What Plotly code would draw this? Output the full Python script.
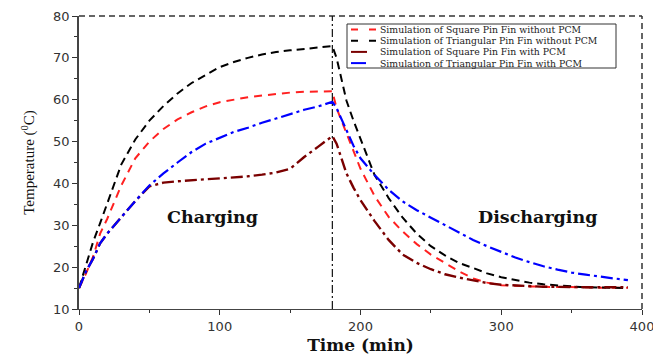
import plotly.graph_objects as go

# ---- data ----
T_CHARGE = [0, 5, 10, 15, 20, 30, 40, 50, 60, 70, 80, 90, 100, 110, 120, 130, 140, 150, 160, 170, 180]
T_DISCHARGE = [180, 183, 190, 195, 200, 210, 220, 230, 240, 250, 260, 270, 280, 290, 300, 310, 320, 330, 340, 350, 360, 370, 380, 390]

square_no_pcm_charge = [15, 18.5, 22.5, 28, 31.5, 39.5, 46, 50, 53, 55.3, 57, 58.4, 59.4, 60, 60.6, 61, 61.4, 61.7, 61.9, 62, 62]
tri_no_pcm_charge = [15, 20.5, 26, 30.5, 35, 44.5, 50.5, 55, 58.5, 61.5, 64, 66, 67.8, 69, 70, 70.8, 71.4, 71.8, 72.1, 72.4, 72.8]
square_pcm_charge = [15, 19, 22, 25.7, 28, 32, 35.8, 39.3, 40.2, 40.5, 40.8, 41, 41.2, 41.4, 41.7, 42.1, 42.6, 43.5, 46.3, 48.8, 51.3]
tri_pcm_charge = [15, 19, 22, 25.7, 28, 32, 35.8, 39.5, 42.4, 45, 47.5, 49.5, 51, 52.3, 53.3, 54.5, 55.5, 56.6, 57.6, 58.4, 59.5]

square_no_pcm_discharge = [62, 58, 52, 47.5, 43.5, 37, 32, 28.5, 25.5, 23, 21, 19, 17.3, 16.3, 15.7, 15.5, 15.4, 15.3, 15.3, 15.2, 15.2, 15.1, 15.1, 15.1]
tri_no_pcm_discharge = [72.8, 70, 59.8, 55, 50.5, 42, 36.5, 31.8, 28, 25, 22.8, 21, 19.8, 18.5, 17.6, 16.9, 16.3, 15.9, 15.6, 15.4, 15.2, 15.1, 15, 15]
square_pcm_discharge = [51.3, 49.5, 42.4, 39, 36, 31, 26.5, 23, 21, 19.5, 18.3, 17.5, 16.8, 16.2, 15.8, 15.6, 15.4, 15.3, 15.3, 15.2, 15.2, 15.2, 15.2, 15.2]
tri_pcm_discharge = [59.5, 58, 52.5, 49, 46, 42, 38.5, 35.7, 33.6, 31.8, 30, 28.2, 26.5, 25, 23.6, 22.3, 21.2, 20.2, 19.4, 18.7, 18.2, 17.7, 17.3, 16.9]

SERIES_NAMES = [
    "Simulation of Square Pin Fin without PCM",
    "Simulation of Triangular Pin Fin without PCM",
    "Simulation of Square Pin Fin with PCM",
    "Simulation of Triangular Pin Fin with PCM",
]
CHARGE_END = 180
X_TICKS = [0, 100, 200, 300, 400]
Y_TICKS = [10, 20, 30, 40, 50, 60, 70, 80]
PHASE_LABELS = ["Charging", "Discharging"]
PHASE_LABEL_X = [95, 326]
PHASE_LABEL_Y = [32, 32]

# ---- layout geometry (pixels) ----
W, H = 653, 358
ML, MR, MT, MB = 79, 11, 16, 49
PW, PH = W - ML - MR, H - MT - MB


def px_x(p):
    return (p - ML) / PW


def px_y(p):
    return (H - MB - p) / PH


# ---- styles ----
line_styles = [
    dict(color="#ff2020", dash="8px,6px", width=2),
    dict(color="#000000", dash="8px,5px", width=2),
    dict(color="#7a0000", dash="12px,4px,3px,4px", width=2.4),
    dict(color="#0000ff", dash="12px,4px,3px,4px", width=2.2),
]
legend_dash = ["7px,11px", "7px,11px", "solid", "solid"]
legend_len = [27, 27, 16, 15]

charges = [square_no_pcm_charge, tri_no_pcm_charge, square_pcm_charge, tri_pcm_charge]
discharges = [square_no_pcm_discharge, tri_no_pcm_discharge, square_pcm_discharge, tri_pcm_discharge]

fig = go.Figure()
for i in range(4):
    fig.add_trace(go.Scatter(
        x=T_CHARGE + T_DISCHARGE[1:],
        y=charges[i] + discharges[i][1:],
        mode="lines",
        name=SERIES_NAMES[i],
        showlegend=False,
        line=line_styles[i],
    ))

serif = "Liberation Serif, Times New Roman, serif"
wserif = "DejaVu Serif, serif"
sans = "DejaVu Sans, Arial, sans-serif"

fig.update_layout(
    width=W, height=H,
    margin=dict(l=ML, r=MR, t=MT, b=MB),
    plot_bgcolor="white", paper_bgcolor="white",
    showlegend=False,
    xaxis=dict(
        range=[0, 400], tickvals=X_TICKS, ticks="outside", ticklen=5, tickwidth=1.2,
        tickcolor="#333", showline=True, linecolor="#444", linewidth=1.3,
        showgrid=False, zeroline=False, automargin=False, ticklabeloverflow="allow",
        tickfont=dict(family=sans, size=13, color="#333"),
        minor=dict(dtick=50, ticks="outside", ticklen=3, tickcolor="#333"),
        title=dict(text="<b>Time (min)</b>", font=dict(family=wserif, size=17, color="#111"), standoff=6),
    ),
    yaxis=dict(
        range=[10, 80], tickvals=Y_TICKS, ticks="outside", ticklen=5, tickwidth=1.2,
        tickcolor="#333", showline=True, linecolor="#444", linewidth=1.5,
        showgrid=False, zeroline=False, automargin=False,
        tickfont=dict(family=sans, size=13, color="#333"),
        minor=dict(dtick=5, ticks="outside", ticklen=3, tickcolor="#333"),
        title=dict(text="Temperature (<sup>0</sup>C)", font=dict(family=serif, size=15, color="#111"), standoff=15),
    ),
)

# frame: dashed top and right borders, dash-dot phase separator
fig.add_shape(type="line", xref="paper", yref="paper", x0=0, x1=1, y0=1, y1=1,
              line=dict(color="#333", width=1.5, dash="6px,4px"))
fig.add_shape(type="line", xref="paper", yref="paper", x0=1, x1=1, y0=0, y1=1,
              line=dict(color="#333", width=1.5, dash="6px,4px"))
fig.add_shape(type="line", xref="x", yref="paper", x0=CHARGE_END, x1=CHARGE_END, y0=0, y1=1,
              line=dict(color="#111", width=1.2, dash="8px,3px,2px,3px"))

for txt, tx, ty in zip(PHASE_LABELS, PHASE_LABEL_X, PHASE_LABEL_Y):
    fig.add_annotation(x=tx, y=ty, text=f"<b>{txt}</b>", showarrow=False,
                       font=dict(family=wserif, size=17.5, color="#111"))

# legend box (drawn as in the reference: compact rows)
row_y = [29.5, 40.7, 51.9, 63.1]
fig.add_shape(type="rect", xref="paper", yref="paper",
              x0=px_x(347), x1=px_x(616), y0=px_y(68), y1=px_y(24),
              line=dict(color="#333", width=1), fillcolor="white", layer="above")
for i in range(4):
    fig.add_shape(type="line", xref="paper", yref="paper",
                  x0=px_x(351), x1=px_x(351 + legend_len[i]), y0=px_y(row_y[i]), y1=px_y(row_y[i]),
                  line=dict(color=line_styles[i]["color"], width=2, dash=legend_dash[i]), layer="above")
    fig.add_annotation(xref="paper", yref="paper", x=px_x(379), y=px_y(row_y[i]),
                       xanchor="left", yanchor="middle", text=SERIES_NAMES[i], showarrow=False,
                       borderpad=0, font=dict(family=wserif, size=9.3, color="#222"))

fig.write_html("out.html", config={"displayModeBar": False},
               post_script="document.body.style.margin='0';")
